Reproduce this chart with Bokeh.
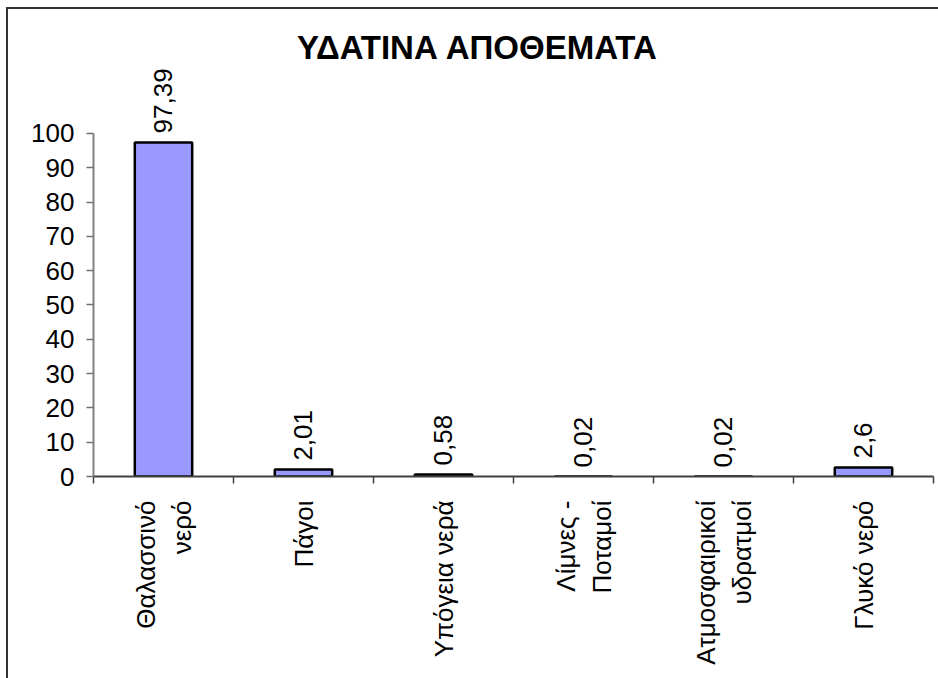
import math
from bokeh.plotting import figure
from bokeh.models import (ColumnDataSource, Range1d, FixedTicker, LinearAxis,
                          LabelSet, Label, InlineStyleSheet)
from bokeh.core.properties import value
from bokeh.embed import file_html
from bokeh.resources import INLINE

# ---- data ----
categories = ["Θαλασσινό\nνερό", "Πάγοι", "Υπόγεια νερά", "Λίμνες -\nΠοταμοί",
              "Ατμοσφαιρικοί\nυδρατμοί", "Γλυκό νερό"]
values = [97.39, 2.01, 0.58, 0.02, 0.02, 2.6]
value_labels = ["97,39", "2,01", "0,58", "0,02", "0,02", "2,6"]
y_ticks = [0, 10, 20, 30, 40, 50, 60, 70, 80, 90, 100]
title_text = "ΥΔΑΤΙΝΑ ΑΠΟΘΕΜΑΤΑ"

FONT = "Liberation Sans"
W, H = 938, 678
n = len(categories)
xs = [i + 0.5 for i in range(n)]

src = ColumnDataSource(dict(x=xs, value=values, label=value_labels))

# frame extends well above the axis top (100) so labels/title are not clipped
p = figure(width=W, height=H, output_backend="svg", toolbar_location=None,
           x_range=Range1d(0, n), y_range=Range1d(0, 135.86),
           x_axis_location=None, y_axis_location=None,
           min_border_left=93, min_border_right=5,
           min_border_top=10, min_border_bottom=202)
p.outline_line_color = None
p.xgrid.visible = False
p.ygrid.visible = False
p.background_fill_color = "white"
p.border_fill_color = "white"
p.stylesheets = [InlineStyleSheet(css=(
    ":host { overflow: hidden; }"
    ":host::after { content: ''; position: absolute; left: 6px; top: 7px;"
    " right: -20px; bottom: -20px; border: 2px solid #333333;"
    " pointer-events: none; }"))]

p.vbar(x="x", top="value", bottom=0, width=0.41, source=src,
       fill_color="#9999FF", line_color="black", line_width=2.5)

# y axis
yaxis = LinearAxis(ticker=FixedTicker(ticks=y_ticks), bounds=(0, 100))
yaxis.axis_line_color = "#808080"
yaxis.axis_line_width = 2
yaxis.major_tick_line_color = "#707070"
yaxis.major_tick_line_width = 1.5
yaxis.major_tick_out = 7
yaxis.major_tick_in = 0
yaxis.minor_tick_line_color = None
yaxis.major_label_standoff = 12
yaxis.major_label_text_font = FONT
yaxis.major_label_text_font_size = "26px"
yaxis.major_label_text_color = "black"
p.add_layout(yaxis, "left")

# x axis: labels at category centres, ticks at boundaries
xaxis = LinearAxis(ticker=FixedTicker(ticks=xs, minor_ticks=list(range(n + 1))))
xaxis.major_label_overrides = {x: c for x, c in zip(xs, categories)}
xaxis.major_label_orientation = math.pi / 2
xaxis.axis_line_color = "#404040"
xaxis.axis_line_width = 2
xaxis.major_tick_line_color = None
xaxis.major_tick_out = 0
xaxis.major_tick_in = 0
xaxis.minor_tick_line_color = "#404040"
xaxis.minor_tick_line_width = 1.5
xaxis.minor_tick_out = 7
xaxis.minor_tick_in = 0
xaxis.major_label_standoff = 17
xaxis.major_label_text_font = FONT
xaxis.major_label_text_font_size = "26px"
xaxis.major_label_text_color = "black"
p.add_layout(xaxis, "below")

# value labels
labels = LabelSet(x="x", y="value", text="label", source=src, angle=math.pi / 2,
                  text_align="left", text_baseline="middle", y_offset=9,
                  text_font=value(FONT), text_font_size=value("26px"),
                  text_color="black")
p.add_layout(labels)

# title (screen units are relative to the plot frame's bottom-left corner)
p.add_layout(Label(x=384, y=429, x_units="screen", y_units="screen", text=title_text,
                   text_align="center", text_baseline="alphabetic",
                   text_font=FONT, text_font_style="bold", text_font_size="33px",
                   text_color="black"))

open("out.html", "w").write(file_html(p, INLINE))
